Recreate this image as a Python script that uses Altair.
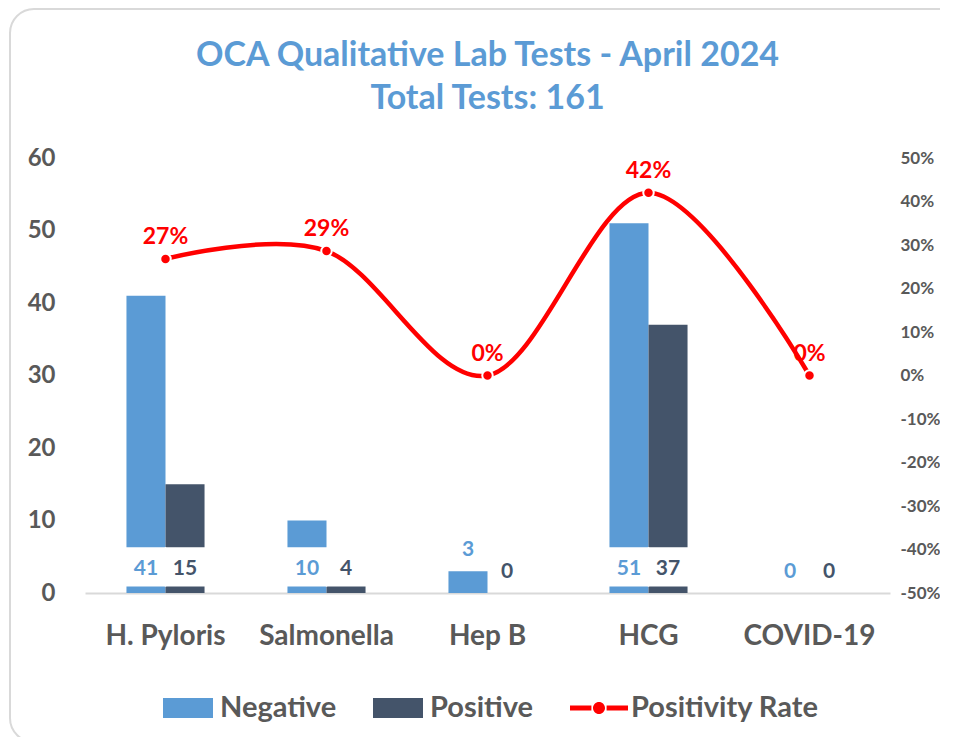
import altair as alt
import pandas as pd

categories = ["H. Pyloris", "Salmonella", "Hep B", "HCG", "COVID-19"]
negative = [41, 10, 3, 51, 0]
positive = [15, 4, 0, 37, 0]
rate = [0.268, 0.286, 0.0, 0.420, 0.0]
series = ["Negative", "Positive", "Positivity Rate"]
colors = ["#5B9BD5", "#44546A", "#FF0000"]
title_lines = ["OCA Qualitative Lab Tests - April 2024", "Total Tests: 161"]

FONT = "Lato"
GRAY = "#595959"

rows = []
for c, n, p in zip(categories, negative, positive):
    for s, v in (("Negative", n), ("Positive", p)):
        rows.append({
            "cat": c, "Series": s, "value": v,
            "label_y": 3.3 if v >= 4 else v + 2.9,
            "box_lo": 1.0, "box_hi": min(v, 6.2),
            "has_box": v >= 4,
        })
bars_df = pd.DataFrame(rows)
line_df = pd.DataFrame({"cat": categories, "rate": rate, "Series": "Positivity Rate",
                        "lbl": [f"{round(r*100)}%" for r in rate]})

xaxis = alt.Axis(labelFont=FONT, labelFontSize=28, labelFontWeight="bold",
                 labelColor=GRAY, labelPadding=29, ticks=False,
                 domainColor="#D9D9D9", domainWidth=2, labelAngle=0)
xscale = alt.Scale(paddingInner=0.515, paddingOuter=0.2575)


def X():
    return alt.X("cat:N", sort=categories, title=None, scale=xscale, axis=xaxis)


xoff = alt.XOffset("Series:N", scale=alt.Scale(domain=["Negative", "Positive"], paddingInner=0, paddingOuter=0))
yscale = alt.Scale(domain=[0, 60], nice=False)
yaxis = alt.Axis(values=[0, 10, 20, 30, 40, 50, 60], grid=False, domain=False, ticks=False,
                 labelFont=FONT, labelFontSize=24, labelFontWeight="bold",
                 labelColor=GRAY, labelPadding=30)
rscale = alt.Scale(domain=[-0.5, 0.5], nice=False)
raxis = alt.Axis(orient="right", values=[-0.5, -0.4, -0.3, -0.2, -0.1, 0, 0.1, 0.2, 0.3, 0.4, 0.5],
                 labelExpr="round(datum.value*100) + '%'", grid=False, domain=False, ticks=False,
                 labelFont=FONT, labelFontSize=17, labelFontWeight="bold",
                 labelColor=GRAY, labelPadding=10)
color_scale = alt.Scale(domain=series, range=colors)

rect_path = "M-1.25,-0.5H1.25V0.5H-1.25Z"
line_path = ("M-1.45,-0.12H-0.38V0.12H-1.45Z M0.38,-0.12H1.45V0.12H0.38Z "
             "M-0.3,0A0.3,0.3 0 1,0 0.3,0A0.3,0.3 0 1,0 -0.3,0Z")
legend = alt.Legend(
    title=None, orient="none", legendX=83, legendY=530, direction="horizontal",
    labelFont=FONT, labelFontSize=29, labelFontWeight="bold", labelColor=GRAY, labelLimit=400,
    symbolSize=1600, labelOffset=12, columnPadding=36, symbolStrokeWidth=0, symbolOpacity=1,
    symbolType=alt.ExprRef(expr=f"datum.label === 'Positivity Rate' ? '{line_path}' : '{rect_path}'"),
)

border = alt.Chart(pd.DataFrame({"a": [0]})).mark_rect(
    fill="transparent", stroke="#D9D9D9", strokeWidth=2, cornerRadius=24
).encode(x=alt.value(-75), x2=alt.value(905), y=alt.value(-149), y2=alt.value(584))

bars = alt.Chart(bars_df).mark_bar().encode(
    x=X(), xOffset=xoff,
    y=alt.Y("value:Q", scale=yscale, title=None, axis=yaxis),
    color=alt.Color("Series:N", scale=color_scale, legend=legend),
)

boxes = alt.Chart(bars_df).transform_filter("datum.has_box").mark_bar(
    color="white", stroke="white", strokeWidth=1.5
).encode(
    x=X(), xOffset=xoff,
    y=alt.Y("box_lo:Q", scale=yscale, title=None, axis=yaxis), y2="box_hi:Q",
)

labels_neg = alt.Chart(bars_df).transform_filter("datum.Series === 'Negative'").mark_text(
    font=FONT, fontSize=21, fontWeight="bold", color="#5B9BD5", baseline="middle"
).encode(x=X(), xOffset=xoff,
         y=alt.Y("label_y:Q", scale=yscale, title=None, axis=yaxis), text="value:Q")
labels_pos = alt.Chart(bars_df).transform_filter("datum.Series === 'Positive'").mark_text(
    font=FONT, fontSize=21, fontWeight="bold", color="#44546A", baseline="middle"
).encode(x=X(), xOffset=xoff,
         y=alt.Y("label_y:Q", scale=yscale, title=None, axis=yaxis), text="value:Q")

left = alt.layer(border, bars, boxes, labels_neg, labels_pos)

line = alt.Chart(line_df).mark_line(strokeWidth=4.5, interpolate="cardinal").encode(
    x=X(),
    y=alt.Y("rate:Q", scale=rscale, title=None, axis=raxis),
    color=alt.Color("Series:N", scale=color_scale, legend=legend),
)
pts = alt.Chart(line_df).mark_circle(size=110, color="#FF0000", opacity=1, stroke="white", strokeWidth=2).encode(
    x=X(), y=alt.Y("rate:Q", scale=rscale, title=None, axis=raxis))
line_labels = alt.Chart(line_df).mark_text(
    font=FONT, fontSize=23, fontWeight="bold", color="#FF0000", dy=-22
).encode(x=X(), y=alt.Y("rate:Q", scale=rscale, title=None, axis=raxis), text="lbl:N")

right = alt.layer(line, pts, line_labels)

chart = alt.layer(left, right).resolve_scale(y="independent").properties(
    width=805, height=435,
    padding={"left": 77, "top": 150, "right": 50, "bottom": 144},
    autosize=alt.AutoSizeParams(type="none"),
    title=alt.TitleParams(title_lines, font=FONT, fontSize=34, fontWeight="bold", color="#5B9BD5",
                          lineHeight=43, anchor="middle", offset=-108),
).configure_view(strokeWidth=0)

chart.save("out.html", embed_options={"renderer": "svg", "actions": False})
